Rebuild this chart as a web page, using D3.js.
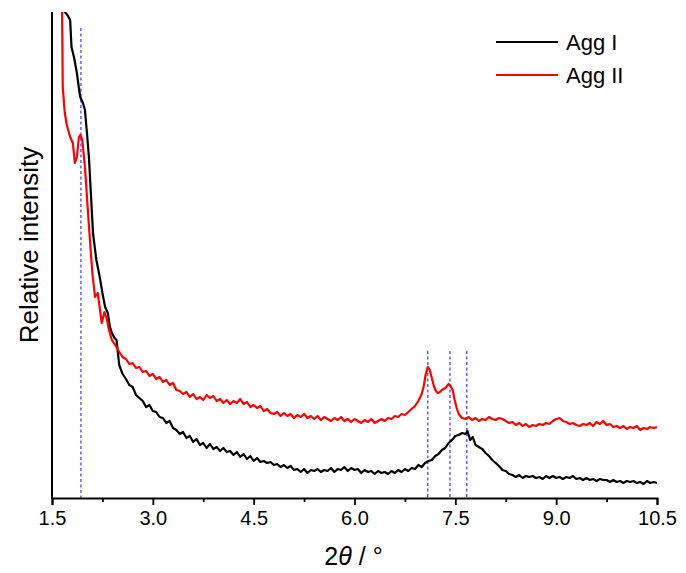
<!DOCTYPE html>
<html>
<head>
<meta charset="utf-8">
<script src="https://cdn.jsdelivr.net/npm/d3@7"></script>
<style>
  body { margin: 0; background: #fff; }
  text { font-family: Arial, "Liberation Sans", sans-serif; }
</style>
</head>
<body>
<svg id="chart" width="686" height="573"></svg>
<script>
// --- Data (intensity in arbitrary units)
const aggITheta = [1.62, 1.69, 1.73, 1.77, 1.79, 1.83, 1.87, 1.90, 1.92, 1.96, 1.99, 2.02, 2.05, 2.07, 2.11, 2.16, 2.21, 2.25, 2.29, 2.33, 2.36, 2.39, 2.43, 2.46,
  2.50, 2.55, 2.60, 2.65, 2.70, 2.75, 2.80, 2.85, 2.90, 2.95, 3.00, 3.05, 3.10, 3.15, 3.20, 3.25, 3.30, 3.35, 3.40, 3.45, 3.50, 3.55, 3.60, 3.65, 3.70, 3.75, 3.80, 3.85, 3.90, 3.95,
  4.00, 4.05, 4.10, 4.15, 4.20, 4.25, 4.30, 4.35, 4.40, 4.45, 4.50, 4.55, 4.60, 4.65, 4.70, 4.75, 4.80, 4.85, 4.90, 4.95, 5.00, 5.05, 5.10, 5.15, 5.20, 5.25, 5.30, 5.35, 5.40, 5.45,
  5.50, 5.55, 5.60, 5.65, 5.70, 5.75, 5.80, 5.85, 5.90, 5.95, 6.00, 6.05, 6.10, 6.15, 6.20, 6.25, 6.30, 6.35, 6.40, 6.45, 6.50, 6.55, 6.60, 6.65, 6.70, 6.75, 6.80, 6.85, 6.90, 6.95,
  7.00, 7.05, 7.10, 7.15, 7.20, 7.25, 7.30, 7.35, 7.40, 7.45, 7.50, 7.55, 7.60, 7.65, 7.68, 7.72, 7.76, 7.80, 7.85, 7.90, 7.95, 8.00, 8.05, 8.10, 8.15, 8.20, 8.25, 8.30, 8.35, 8.40,
  8.45, 8.50, 8.55, 8.60, 8.65, 8.70, 8.75, 8.80, 8.85, 8.90, 8.95, 9.00, 9.05, 9.10, 9.15, 9.20, 9.25, 9.30, 9.35, 9.40, 9.45, 9.50, 9.55, 9.60, 9.65, 9.70, 9.75, 9.80, 9.85, 9.90,
  9.95, 10.00, 10.05, 10.10, 10.15, 10.20, 10.25, 10.30, 10.35, 10.40, 10.45, 10.50];
const aggI = [520, 486, 483, 478, 451, 440, 425, 410, 401, 395, 388, 365, 340, 315, 265, 238, 221, 205, 191, 185, 172, 165, 160, 158,
  133, 124, 119, 113, 111, 103, 100, 97, 91, 93, 87, 86, 81, 80, 75, 77, 70, 68, 64, 66, 60, 62, 56, 59, 53, 55, 50, 54, 49, 51,
  47, 50, 46, 47, 43, 46, 41, 44, 39, 42, 37, 40, 36, 37, 35, 36, 33, 34, 31, 33, 30, 32, 28, 29, 26, 29, 25, 28, 27, 29,
  26, 28, 27, 30, 26, 29, 28, 31, 27, 30, 28, 29, 25, 28, 26, 27, 24, 27, 25, 26, 24, 27, 25, 28, 26, 29, 27, 30, 29, 33,
  31, 35, 37, 38, 42, 44, 48, 50, 55, 58, 62, 63, 65, 64, 67, 58, 61, 53, 51, 49, 45, 42, 38, 35, 32, 28, 27, 24, 23, 21,
  23, 20, 22, 21, 22, 20, 21, 19, 22, 20, 22, 20, 21, 19, 21, 20, 22, 19, 20, 18, 20, 18, 19, 17, 19, 18, 18, 16, 18, 16,
  17, 15, 17, 16, 17, 15, 16, 14, 17, 15, 16, 15];

const aggIITheta = [1.62, 1.65, 1.66, 1.69, 1.72, 1.77, 1.81, 1.84, 1.87, 1.90, 1.92, 1.95, 1.99, 2.04, 2.10, 2.14, 2.18, 2.24, 2.28, 2.32, 2.34, 2.39, 2.45,
  2.50, 2.55, 2.60, 2.65, 2.70, 2.75, 2.80, 2.85, 2.90, 2.95, 3.00, 3.05, 3.10, 3.15, 3.20, 3.25, 3.30, 3.35, 3.40, 3.45, 3.50, 3.55, 3.60, 3.65, 3.70, 3.75, 3.80, 3.85, 3.90, 3.95,
  4.00, 4.05, 4.10, 4.15, 4.20, 4.25, 4.30, 4.35, 4.40, 4.45, 4.50, 4.55, 4.60, 4.65, 4.70, 4.75, 4.80, 4.85, 4.90, 4.95, 5.00, 5.05, 5.10, 5.15, 5.20, 5.25, 5.30, 5.35, 5.40, 5.45,
  5.50, 5.55, 5.60, 5.65, 5.70, 5.75, 5.80, 5.85, 5.90, 5.95, 6.00, 6.05, 6.10, 6.15, 6.20, 6.25, 6.30, 6.35, 6.40, 6.45, 6.50, 6.55, 6.60, 6.65, 6.70, 6.75, 6.80, 6.85, 6.90, 6.95,
  7.00, 7.03, 7.06, 7.09, 7.12, 7.15, 7.18, 7.21, 7.24, 7.27, 7.30, 7.35, 7.40, 7.43, 7.46, 7.49, 7.52, 7.55, 7.60, 7.65, 7.70, 7.75, 7.80, 7.85, 7.90, 7.95,
  8.00, 8.05, 8.10, 8.15, 8.20, 8.25, 8.30, 8.35, 8.40, 8.45, 8.50, 8.55, 8.60, 8.65, 8.70, 8.75, 8.80, 8.85, 8.90, 8.95, 9.00, 9.05, 9.10, 9.15, 9.20, 9.25, 9.30, 9.35, 9.40, 9.45,
  9.50, 9.55, 9.60, 9.65, 9.70, 9.75, 9.80, 9.85, 9.90, 9.95, 10.00, 10.05, 10.10, 10.15, 10.20, 10.25, 10.30, 10.35, 10.40, 10.45, 10.50];
const aggII = [520, 486, 411, 385, 373, 361, 355, 335, 341, 361, 363, 358, 331, 281, 225, 201, 205, 175, 186, 178, 170, 158, 152,
  146, 141, 139, 134, 135, 130, 131, 126, 127, 122, 124, 119, 121, 116, 118, 113, 115, 108, 107, 104, 106, 101, 104, 99, 101, 98, 103, 100, 102, 97,
  99, 95, 98, 94, 97, 95, 99, 94, 96, 91, 93, 90, 92, 87, 89, 85, 84, 86, 82, 85, 82, 84, 80, 83, 81, 84, 80, 82, 79, 82,
  78, 81, 79, 77, 80, 78, 81, 77, 79, 76, 79, 77, 75, 78, 76, 79, 75, 77, 79, 77, 80, 79, 82, 81, 84, 83, 86, 89, 92, 97,
  104, 112, 124, 131, 128, 120, 112, 107, 105, 106, 108, 110, 114, 112, 108, 98, 90, 84, 80, 79, 81, 78, 80, 77, 79, 78,
  81, 79, 78, 80, 79, 77, 75, 76, 73, 75, 72, 74, 71, 73, 72, 74, 73, 75, 74, 77, 79, 80, 77, 76, 74, 75, 73, 72, 74, 73,
  75, 72, 76, 74, 77, 73, 74, 71, 72, 70, 72, 69, 71, 70, 72, 68, 70, 69, 71, 70, 71];

const refLines = [1.93, 7.09, 7.42, 7.67];
const refTops = [470, 147, 147, 147];

const xTicks = [1.5, 3.0, 4.5, 6.0, 7.5, 9.0, 10.5];
const xMinorTicks = [2.25, 3.75, 5.25, 6.75, 8.25, 9.75];

const seriesNames = ["Agg I", "Agg II"];
const seriesColors = ["#000000", "#ff0000"];

// --- Layout
const svg = d3.select("#chart");
const margin = { left: 52, right: 29, top: 12, bottom: 75 };
const W = 686, H = 573;
const innerW = W - margin.left - margin.right;
const innerH = H - margin.top - margin.bottom;

const x = d3.scaleLinear().domain([1.5, 10.5]).range([margin.left, margin.left + innerW]);
const y = d3.scaleLinear().domain([0, 486]).range([margin.top + innerH, margin.top]);

svg.append("defs").append("clipPath").attr("id", "clip")
  .append("rect")
  .attr("x", margin.left).attr("y", margin.top)
  .attr("width", innerW).attr("height", innerH);

// --- Reference dashed lines
svg.append("g")
  .selectAll("line")
  .data(refLines)
  .enter()
  .append("line")
  .attr("x1", d => x(d)).attr("x2", d => x(d))
  .attr("y1", (d, i) => y(refTops[i]))
  .attr("y2", y(0))
  .attr("stroke", "#5555ff")
  .attr("stroke-width", 1.4)
  .attr("stroke-dasharray", "3,2.5");

// --- Curves
const line = d3.line().x(d => x(d[0])).y(d => y(d[1]));
const series = [
  aggITheta.map((t, i) => [t, aggI[i]]),
  aggIITheta.map((t, i) => [t, aggII[i]])
];

svg.append("g").attr("clip-path", "url(#clip)")
  .selectAll("path")
  .data(series)
  .enter()
  .append("path")
  .attr("d", line)
  .attr("fill", "none")
  .attr("stroke", (d, i) => seriesColors[i])
  .attr("stroke-width", 2.2)
  .attr("stroke-linejoin", "round");

// --- Axes
const xAxis = svg.append("g")
  .attr("transform", `translate(0,${margin.top + innerH})`)
  .call(d3.axisBottom(x).tickValues(xTicks).tickFormat(d3.format(".1f")).tickSize(7).tickPadding(6));
xAxis.append("g")
  .call(d3.axisBottom(x).tickValues(xMinorTicks).tickFormat("").tickSize(4))
  .select(".domain").remove();
xAxis.selectAll(".domain").attr("stroke", "#000").attr("stroke-width", 2);
xAxis.selectAll(".tick line").attr("stroke", "#000").attr("stroke-width", 1.8);
xAxis.selectAll(".tick text")
  .attr("font-size", 20)
  .attr("fill", "#000")
  .style("font-family", "Arial, 'Liberation Sans', sans-serif");

svg.append("line")
  .attr("x1", margin.left).attr("x2", margin.left)
  .attr("y1", margin.top).attr("y2", margin.top + innerH + 1)
  .attr("stroke", "#000").attr("stroke-width", 2);

// --- Axis titles
const xTitle = svg.append("text")
  .attr("x", x(6.0) - 1)
  .attr("y", 565)
  .attr("text-anchor", "middle")
  .attr("font-size", 25);
xTitle.append("tspan").text("2");
xTitle.append("tspan").attr("font-style", "italic").text("θ");
xTitle.append("tspan").text(" / °");

svg.append("text")
  .attr("transform", `translate(38,245) rotate(-90)`)
  .attr("text-anchor", "middle")
  .attr("font-size", 26)
  .text("Relative intensity");

// --- Legend
const legend = svg.append("g")
  .selectAll("g")
  .data(seriesNames)
  .enter()
  .append("g")
  .attr("transform", (d, i) => `translate(496,${42 + i * 33})`);
legend.append("line")
  .attr("x1", 0).attr("x2", 62)
  .attr("stroke", (d, i) => seriesColors[i])
  .attr("stroke-width", 2);
legend.append("text")
  .attr("x", 70).attr("y", 8)
  .attr("font-size", 22)
  .text(d => d);
</script>
</body>
</html>
